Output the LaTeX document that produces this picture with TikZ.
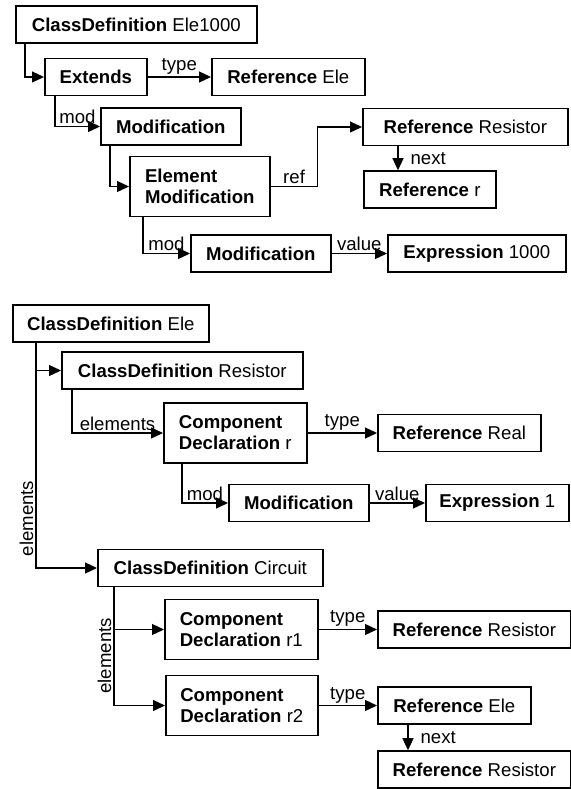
\documentclass[tikz,border=0pt]{standalone}
\usepackage{fontspec}
\setmainfont{Liberation Sans}
\usetikzlibrary{arrows.meta}

\begin{document}
\begin{tikzpicture}[x=0.5pt,y=-0.5pt,
	boite/.style={draw,line width=0.8pt,anchor=west,minimum height=18.5pt,inner xsep=0pt,font=\fontsize{9.3}{10.5}\selectfont},
	double/.style={boite,minimum height=30pt,align=left},
	fleche/.style={line width=0.65pt,-{Triangle[length=6pt,width=5.5pt]}},
	etiq/.style={font=\fontsize{9.3}{10.5}\selectfont,inner sep=1pt}]
	\useasboundingbox (0,0) rectangle (571,789);
	% premier arbre : Ele1000
	\node[boite,minimum width=120.5pt] (cdEle1000) at (15,24.5) {\textbf{ClassDefinition} Ele1000};
	\node[boite,minimum width=51pt] (extends) at (44,77) {\textbf{Extends}};
	\node[boite,minimum width=76.5pt] (refEle) at (211,77) {\textbf{Reference} Ele};
	\node[boite,minimum width=70pt] (modif1) at (100,126.5) {\textbf{Modification}};
	\node[double,minimum width=70pt] (elemModif) at (129,186.5) {\textbf{Element}\\\textbf{Modification}};
	\node[boite,minimum width=102.5pt] (refResistor1) at (362,127) {\textbf{Reference} Resistor};
	\node[boite,minimum width=66pt] (refR) at (363,189.5) {\textbf{Reference} r};
	\node[boite,minimum width=70pt] (modif2) at (190,253.5) {\textbf{Modification}};
	\node[boite,minimum width=89pt] (expr1000) at (387,253.5) {\textbf{Expression} 1000};
	\draw[fleche] ([xshift=5pt]cdEle1000.south west) |- (extends.west);
	\draw[fleche] (extends.east) -- (refEle.west) node[midway,above,etiq]{type};
	\draw[fleche] ([xshift=5.5pt]extends.south west) |- (modif1.west) node[pos=0.75,above,etiq]{mod};
	\draw[fleche] ([xshift=5pt]modif1.south west) |- (elemModif.west);
	\draw[fleche] (elemModif.east) -- ++(47,0) node[midway,above,etiq]{ref} |- (refResistor1.west);
	\draw[fleche] ([xshift=18pt]refResistor1.south west) -- ([xshift=17.5pt]refR.north west) node[midway,right=5pt,etiq]{next};
	\draw[fleche] ([xshift=7pt]elemModif.south west) |- (modif2.west) node[pos=0.75,above,etiq]{mod};
	\draw[fleche] (modif2.east) -- (expr1000.west) node[midway,above,etiq]{value};
	% second arbre : Ele
	\node[boite,minimum width=98pt] (cdEle) at (12,323.5) {\textbf{ClassDefinition} Ele};
	\node[boite,minimum width=120.5pt] (cdResistor) at (61,370.5) {\textbf{ClassDefinition} Resistor};
	\node[double,minimum width=71.5pt] (compR) at (163,433) {\textbf{Component}\\\textbf{Declaration} r};
	\node[boite,minimum width=81.5pt] (refReal) at (377,433) {\textbf{Reference} Real};
	\node[boite,minimum width=70pt] (modif3) at (228,503) {\textbf{Modification}};
	\node[boite,minimum width=71.5pt] (expr1) at (425,503) {\textbf{Expression} 1};
	\node[boite,minimum width=112.5pt] (cdCircuit) at (97,568) {\textbf{ClassDefinition} Circuit};
	\node[double,minimum width=76.5pt] (compR1) at (164,629.5) {\textbf{Component}\\\textbf{Declaration} r1};
	\node[boite,minimum width=96.5pt] (refResistor2) at (377,629.5) {\textbf{Reference} Resistor};
	\node[double,minimum width=76pt] (compR2) at (165,705.5) {\textbf{Component}\\\textbf{Declaration} r2};
	\node[boite,minimum width=76.5pt] (refEle2) at (377,705.5) {\textbf{Reference} Ele};
	\node[boite,minimum width=96.5pt] (refResistor3) at (377,769.5) {\textbf{Reference} Resistor};
	\draw[fleche] ([xshift=12pt]cdEle.south west) |- (cdResistor.west);
	\draw[fleche] ([xshift=12pt]cdEle.south west) |- (cdCircuit.west) node[pos=0.39,rotate=90,anchor=south,etiq]{elements};
	\draw[fleche] ([xshift=5.5pt]cdResistor.south west) |- (compR.west) node[pos=0.75,above,etiq]{elements};
	\draw[fleche] (compR.east) -- (refReal.west) node[midway,above,etiq]{type};
	\draw[fleche] ([xshift=9.5pt]compR.south west) |- (modif3.west) node[pos=0.75,above,etiq]{mod};
	\draw[fleche] (modif3.east) -- (expr1.west) node[midway,above,etiq]{value};
	\draw[fleche] ([xshift=8.5pt]cdCircuit.south west) |- (compR1.west);
	\draw[fleche] ([xshift=8.5pt]cdCircuit.south west) |- (compR2.west) node[pos=0.29,rotate=90,anchor=south,etiq]{elements};
	\draw[fleche] (compR1.east) -- (refResistor2.west) node[midway,above,etiq]{type};
	\draw[fleche] (compR2.east) -- (refEle2.west) node[midway,above,etiq]{type};
	\draw[fleche] ([xshift=15.5pt]refEle2.south west) -- ([xshift=15.5pt]refResistor3.north west) node[midway,right=5pt,etiq]{next};
\end{tikzpicture}
\end{document}
